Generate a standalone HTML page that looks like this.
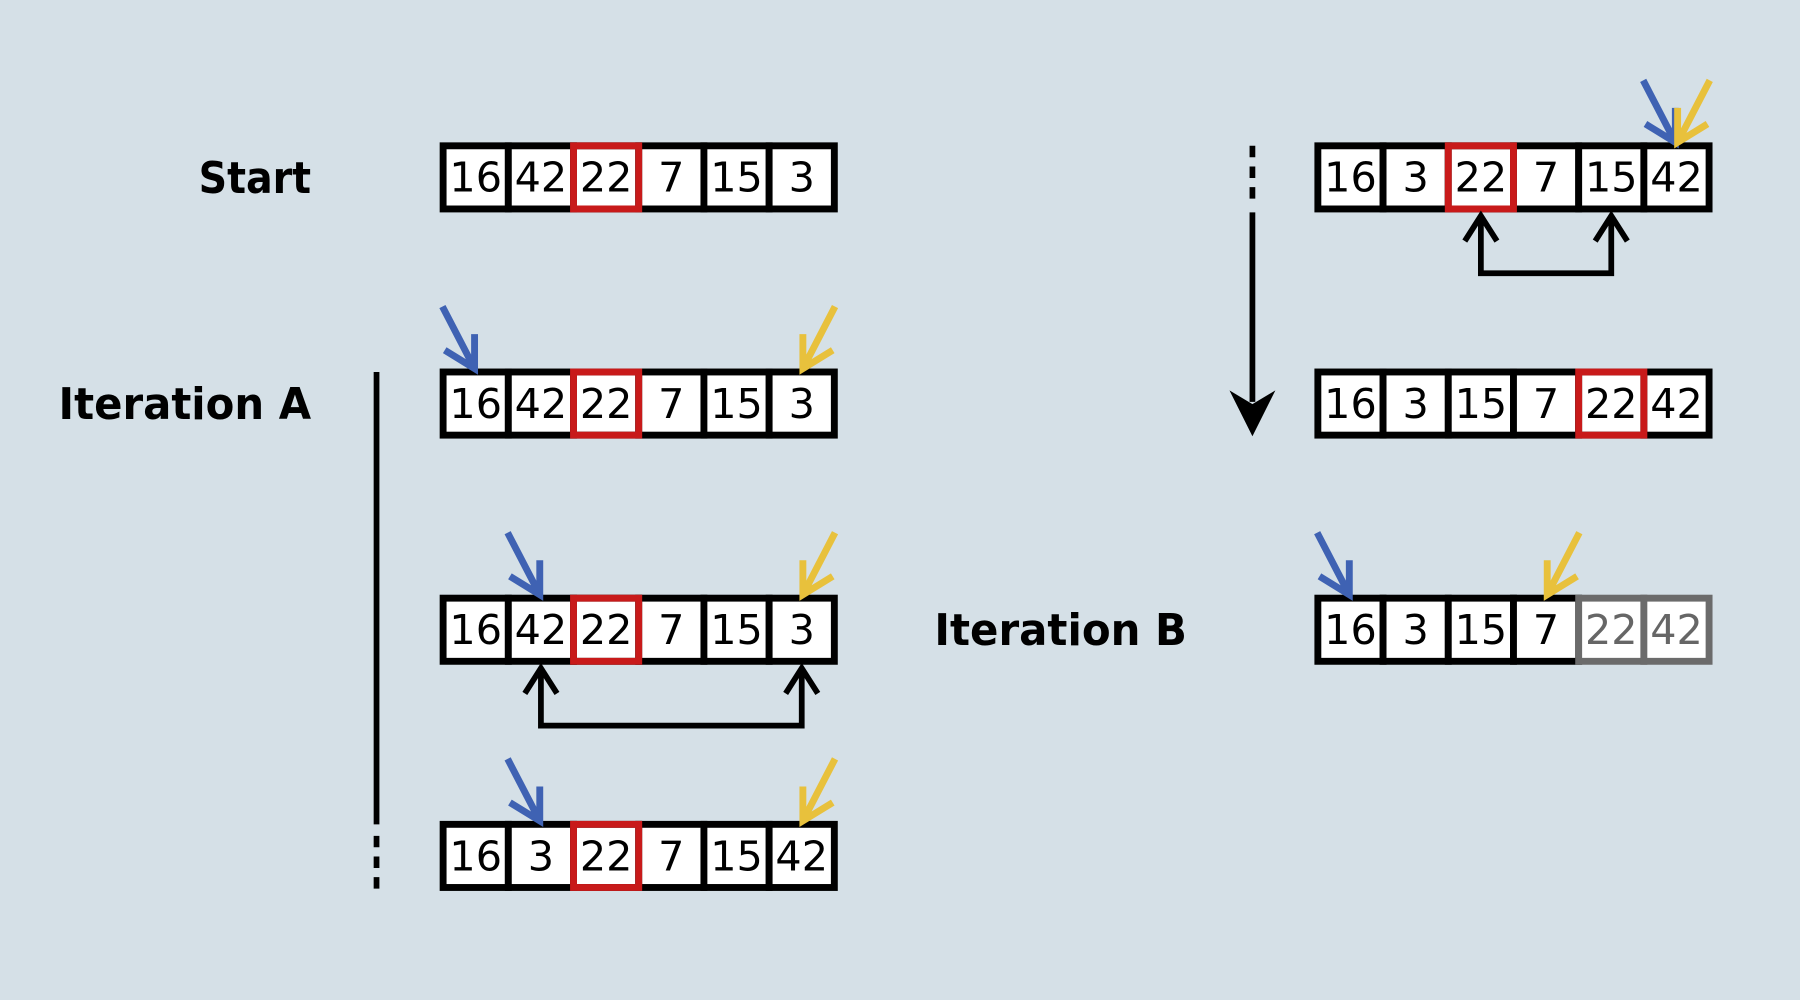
<!DOCTYPE html>
<html><head><meta charset="utf-8"><style>
html,body{margin:0;padding:0;background:#d5e0e7;}
svg{display:block;}
text{font-family:"DejaVu Sans","Liberation Sans",sans-serif;}
</style></head><body>
<svg id="fig" width="1800" height="1000" viewBox="0 0 1568 871" preserveAspectRatio="none" xmlns="http://www.w3.org/2000/svg">
<rect width="1568" height="871" fill="#d5e0e7"/>
<text x="271" y="168" font-size="38" font-weight="bold" text-anchor="end" textLength="98" lengthAdjust="spacingAndGlyphs">Start</text>
<text x="271" y="365" font-size="38" font-weight="bold" text-anchor="end" textLength="220" lengthAdjust="spacingAndGlyphs">Iteration A</text>
<text x="1034" y="562" font-size="38" font-weight="bold" text-anchor="end" textLength="220" lengthAdjust="spacingAndGlyphs">Iteration B</text>
<g stroke="#000" stroke-width="5">
<line x1="328" y1="324" x2="328" y2="718"/>
<line x1="328" y1="728" x2="328" y2="774" stroke-dasharray="10,8"/>
</g>
<g stroke="#000" stroke-width="5">
<line x1="1091" y1="127" x2="1091" y2="177" stroke-dasharray="10,8"/>
<line x1="1091" y1="185" x2="1091" y2="350"/>
</g>
<polygon points="1071,340 1091,380 1111,340 1091,352" fill="#000"/>
<g id="rows"></g>
</svg>
<script>
const rowValues = [[16,42,22,7,15,3],[16,42,22,7,15,3],[16,42,22,7,15,3],[16,3,22,7,15,42],[16,3,22,7,15,42],[16,3,15,7,22,42],[16,3,15,7,22,42]];
const rowX = [383,383,383,383,1145,1145,1145];
const rowY = [124,321,518,715,124,321,518];
const pivotIdx = [2,2,2,2,2,4,-1];
const blueIdx = [-1,0,1,1,5,-1,0];
const yellowIdx = [-1,5,5,5,5,-1,3];
const grayFrom = [99,99,99,99,99,99,4];
const swapPairs = [null,null,[1,5],null,[2,4],null,null];
const W=56.8,H=61,SW=6;
const NS="http://www.w3.org/2000/svg";
const g=document.getElementById('rows');
function mk(t,a){const e=document.createElementNS(NS,t);for(const k in a)e.setAttribute(k,a[k]);return e;}
function cx(r,i){return rowX[r]+SW/2+i*W+W/2;}
rowValues.forEach((vals,r)=>{
  const grp=mk('g',{});
  
  
  g.appendChild(grp);
  vals.forEach((v,i)=>{
    const x=rowX[r]+i*W,y=rowY[r];
    const gray=i>=grayFrom[r];
    const rc=mk('rect',{x:x+SW/2,y:y+SW/2,width:W,height:H-SW,fill:'#fff',stroke:gray?'#6b6b6b':'#000','stroke-width':SW});
    
    
    grp.appendChild(rc);
  });
  vals.forEach((v,i)=>{
    if(i===pivotIdx[r]){
      const x=rowX[r]+i*W,y=rowY[r];
      const p=mk('rect',{x:x+SW/2,y:y+SW/2,width:W,height:H-SW,fill:'none',stroke:'#c81a1a','stroke-width':SW});
      
      
      grp.appendChild(p);
    }
    const t=mk('text',{x:cx(r,i),y:rowY[r]+43,'font-size':36,'text-anchor':'middle',fill:i>=grayFrom[r]?'#666':'#000'});
    t.textContent=v;
    
    
    grp.appendChild(t);
  });
  const y0=rowY[r];
  if(blueIdx[r]>=0){
    const tx=cx(r,blueIdx[r])-1,ty=y0;
    const a=mk('path',{d:`M${tx-28},${ty-54} L${tx},${ty} M${tx},${ty-30} L${tx},${ty} L${tx-26},${ty-16}`,stroke:'#3f62b3','stroke-width':6,fill:'none'});
    
    
    grp.appendChild(a);
  }
  if(yellowIdx[r]>=0){
    const tx=cx(r,yellowIdx[r])+1,ty=y0;
    const a=mk('path',{d:`M${tx+28},${ty-54} L${tx},${ty} M${tx},${ty-30} L${tx},${ty} L${tx+26},${ty-16}`,stroke:'#e8c13c','stroke-width':6,fill:'none'});
    
    
    grp.appendChild(a);
  }
  if(swapPairs[r]){
    const [a1,a2]=swapPairs[r];
    const x1=cx(r,a1),x2=cx(r,a2),yb=y0+H+3,yl=y0+H+53;
    const s=mk('path',{d:`M${x1},${yb} L${x1},${yl} L${x2},${yl} L${x2},${yb} M${x1-14},${yb+22} L${x1},${yb} L${x1+14},${yb+22} M${x2-14},${yb+22} L${x2},${yb} L${x2+14},${yb+22}`,stroke:'#000','stroke-width':5,fill:'none'});
    
    
    grp.appendChild(s);
  }
});
</script>
</body></html>
